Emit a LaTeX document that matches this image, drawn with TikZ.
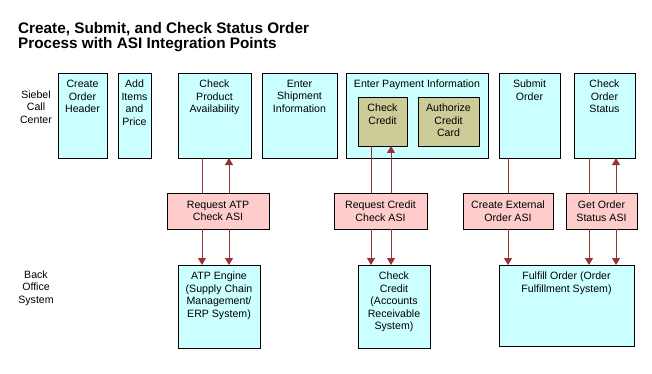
\documentclass[tikz,border=0pt]{standalone}
\usepackage{fontspec}
\setmainfont{Liberation Sans}
\usetikzlibrary{arrows.meta}
\definecolor{cyanfill}{HTML}{CCFFFF}
\definecolor{pinkfill}{HTML}{FFCCCC}
\definecolor{olivefill}{HTML}{CCCC99}
\definecolor{linkred}{HTML}{993333}
\newcommand{\bodyfont}{\fontsize{10.6}{12.5}\selectfont}
\newcommand{\titlefont}{\fontsize{15.3}{15}\selectfont\bfseries}
\begin{document}
\begin{tikzpicture}[x=1pt,y=-1pt,
  box/.style={draw=black, line width=0.8pt, anchor=north west, inner sep=0pt, outer sep=0pt},
  proc/.style={box, fill=cyanfill},
  subbox/.style={box, fill=olivefill},
  asi/.style={box, fill=pinkfill, align=center, font=\bodyfont},
  txt/.style={anchor=north, align=center, inner sep=0pt, font=\bodyfont},
  lane/.style={align=center, inner sep=0pt, font=\bodyfont},
  link/.style={draw=linkred, line width=0.9pt},
  arr/.style={link, -{Triangle[width=8pt,length=7pt]}},
]
\useasboundingbox (0,0) rectangle (652,374);

% title
\node[anchor=north west, align=left, inner sep=0pt, font=\titlefont] (title) at (18,22)
  {Create, Submit, and Check Status Order\\Process with ASI Integration Points};

% lane labels
\node[lane, anchor=north] (siebel) at (36,90.5) {Siebel\\Call\\Center};
\node[lane, anchor=north] (back) at (36,270.5) {Back\\Office\\System};

% top row
\node[proc, minimum width=49pt, minimum height=85pt] (coh) at (58,73) {};
\node[txt] (cohT) at ([yshift=-7pt]coh.north) {Create\\Order\\Header};
\node[proc, minimum width=33pt, minimum height=85pt] (add) at (118,73) {};
\node[txt] (addT) at ([yshift=-7pt]add.north) {Add\\Items\\and\\Price};
\node[proc, minimum width=73pt, minimum height=85pt] (cpa) at (178,73) {};
\node[txt] (cpaT) at ([yshift=-7pt]cpa.north) {Check\\Product\\Availability};
\node[proc, minimum width=75pt, minimum height=85pt] (esi) at (262,73) {};
\node[txt] (esiT) at ([yshift=-7pt]esi.north) {Enter\\Shipment\\Information};
\node[proc, minimum width=142pt, minimum height=85pt] (epi) at (346,73) {};
\node[txt] (epiT) at ([yshift=-7pt]epi.north) {Enter Payment Information};
\node[subbox, minimum width=49pt, minimum height=49pt] (cc) at (358,97) {};
\node[txt] (ccT) at ([yshift=-7pt]cc.north) {Check\\Credit};
\node[subbox, minimum width=61pt, minimum height=49pt] (acc) at (418,97) {};
\node[txt] (accT) at ([yshift=-7pt]acc.north) {Authorize\\Credit\\Card};
\node[proc, minimum width=61pt, minimum height=85pt] (so) at (499,73) {};
\node[txt] (soT) at ([yshift=-7pt]so.north) {Submit\\Order};
\node[proc, minimum width=61pt, minimum height=85pt] (cos) at (574,73) {};
\node[txt] (cosT) at ([yshift=-7pt]cos.north) {Check\\Order\\Status};

% ASI row
\node[asi, minimum width=102pt, minimum height=36pt] (atpasi) at (167,193) {Request ATP\\Check ASI};
\node[asi, minimum width=93pt, minimum height=36pt] (rcc) at (334,193) {Request Credit\\Check ASI};
\node[asi, minimum width=90pt, minimum height=36pt] (ceo) at (463,193) {Create External\\Order ASI};
\node[asi, minimum width=71pt, minimum height=36pt] (gos) at (566,193) {Get Order\\Status ASI};

% back office row
\node[proc, minimum width=82pt, minimum height=83pt] (atp) at (178,265) {};
\node[txt] (atpT) at ([yshift=-7pt]atp.north) {ATP Engine\\(Supply Chain\\Management/\\ERP System)};
\node[proc, minimum width=72pt, minimum height=83pt] (ccar) at (358,265) {};
\node[txt] (ccarT) at ([yshift=-7pt]ccar.north) {Check\\Credit\\(Accounts\\Receivable\\System)};
\node[proc, minimum width=135pt, minimum height=81pt] (ful) at (499,265) {};
\node[txt] (fulT) at ([yshift=-7pt]ful.north) {Fulfill Order (Order\\Fulfillment System)};

% connector columns
\coordinate (xa) at (202,0);
\coordinate (xb) at (229,0);
\coordinate (xc) at (371,0);
\coordinate (xd) at (391,0);
\coordinate (xe) at (508,0);
\coordinate (xf) at (589,0);
\coordinate (xg) at (616,0);

\draw[link] (cpa.south -| xa) -- (atpasi.north -| xa);
\draw[arr] (atpasi.south -| xa) -- (atp.north -| xa);
\draw[arr] (atpasi.north -| xb) -- (cpa.south -| xb);
\draw[arr] (atpasi.south -| xb) -- (atp.north -| xb);

\draw[link] (cc.south -| xc) -- (rcc.north -| xc);
\draw[arr] (rcc.south -| xc) -- (ccar.north -| xc);
\draw[arr] (rcc.north -| xd) -- (cc.south -| xd);
\draw[arr] (rcc.south -| xd) -- (ccar.north -| xd);

\draw[link] (so.south -| xe) -- (ceo.north -| xe);
\draw[arr] (ceo.south -| xe) -- (ful.north -| xe);

\draw[link] (cos.south -| xf) -- (gos.north -| xf);
\draw[arr] (gos.south -| xf) -- (ful.north -| xf);
\draw[arr] (gos.north -| xg) -- (cos.south -| xg);
\draw[arr] (gos.south -| xg) -- (ful.north -| xg);
\end{tikzpicture}
\end{document}
